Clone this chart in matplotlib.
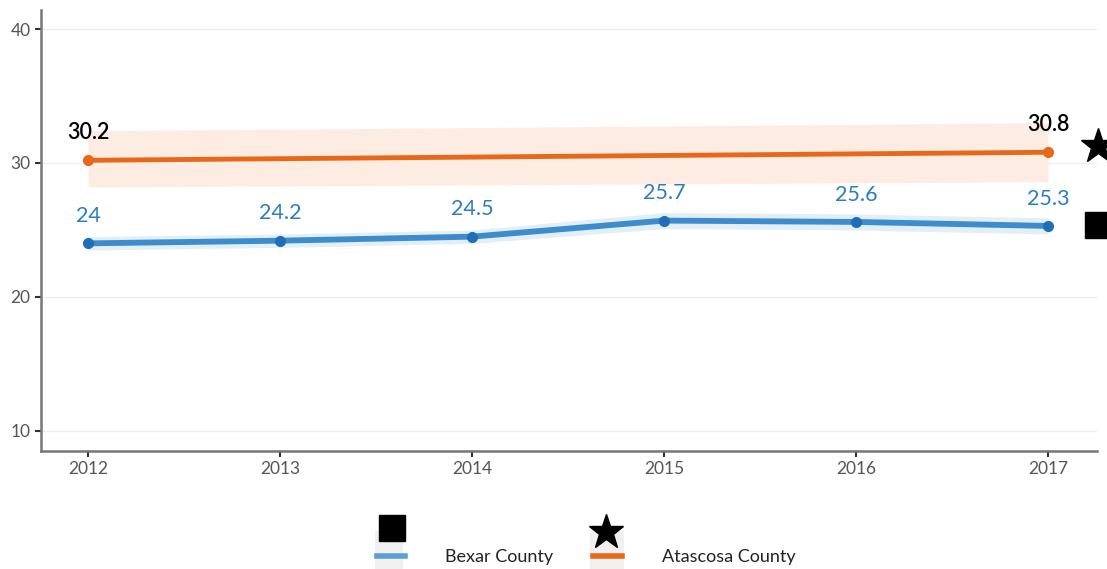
import matplotlib
matplotlib.use("Agg")
import matplotlib.pyplot as plt
from matplotlib.lines import Line2D
import numpy as np

years = [2012, 2013, 2014, 2015, 2016, 2017]
bexar = [24.0, 24.2, 24.5, 25.7, 25.6, 25.3]
bexar_lo = [23.5, 23.7, 24.0, 25.1, 25.0, 24.7]
bexar_hi = [24.5, 24.7, 25.0, 26.3, 26.2, 25.9]
atas_years = [2012, 2017]
atascosa = [30.2, 30.8]
atas_lo = [28.2, 28.6]
atas_hi = [32.4, 33.0]
bexar_state = 25.4
atas_state = 31.3
yticks = [10, 20, 30, 40]

plt.rcParams['font.family'] = ['Lato', 'DejaVu Sans']

fig = plt.figure(figsize=(11.07, 5.69), dpi=100)
ax = fig.add_axes([41/1107, 1-451/569, (1097-41)/1107, (451-10)/569])

blue = '#3d8ccc'
blue_pt = '#1f6fb8'
blue_txt = '#2a7dc4'
orange = '#e8681a'

ax.fill_between(atas_years, atas_lo, atas_hi, color='#fdece2', lw=0, zorder=1)
ax.fill_between(years, bexar_lo, bexar_hi, color='#e3eff8', lw=0, zorder=1)
ax.plot(atas_years, atascosa, color=orange, lw=3.5, zorder=3, solid_capstyle='round')
ax.plot(atas_years, atascosa, 'o', color=orange, ms=7, zorder=4)
ax.plot(years, bexar, color=blue, lw=4.2, zorder=3, solid_capstyle='round')
ax.plot(years, bexar, 'o', color=blue_pt, ms=7, zorder=4)

for x, v in zip(years, bexar):
    ax.text(x, v + 1.3, f"{v:g}", color=blue_txt, fontsize=15.5, ha='center', va='bottom')
for x, v in zip(atas_years, atascosa):
    ax.text(x, v + 1.3, f"{v:g}", color='black', fontsize=15.5, ha='center', va='bottom', fontweight='semibold')

ax.plot([2017.26], [atas_state], marker='*', color='black', ms=26, clip_on=False, zorder=5, lw=0)
ax.plot([2017.26], [bexar_state], marker='s', color='black', ms=19, clip_on=False, zorder=5, lw=0)

ax.set_xlim(2011.755, 2017.255)
ax.set_ylim(8.5, 41.42)
ax.set_xticks(years)
ax.set_yticks(yticks)
ax.tick_params(axis='both', colors='#333333', labelcolor='#555555', labelsize=12.5, length=4, width=1.5)
for s in ['top', 'right']:
    ax.spines[s].set_visible(False)
for s in ['left', 'bottom']:
    ax.spines[s].set_color('#777777')
    ax.spines[s].set_linewidth(1.8)
ax.grid(axis='y', color='#eeeeee', lw=1)
ax.set_axisbelow(True)

# legend
fig.patches.append(plt.Rectangle((375/1107, 1-569/569), 28/1107, 38/569, transform=fig.transFigure, color='#f0f0f0', lw=0))
fig.patches.append(plt.Rectangle((590/1107, 1-569/569), 34/1107, 38/569, transform=fig.transFigure, color='#f0f0f0', lw=0))
fig.lines.append(Line2D([377/1107, 405/1107], [1-556/569]*2, transform=fig.transFigure, color='#5a9fd6', lw=4))
fig.lines.append(Line2D([593/1107, 622/1107], [1-556/569]*2, transform=fig.transFigure, color=orange, lw=4))
fig.lines.append(Line2D([392/1107], [1-528/569], transform=fig.transFigure, marker='s', color='black', ms=19, lw=0))
fig.lines.append(Line2D([606/1107], [1-532/569], transform=fig.transFigure, marker='*', color='black', ms=26, lw=0))
fig.text(445/1107, 1-557/569, "Bexar County", fontsize=13, va='center', ha='left', color='#222222')
fig.text(662/1107, 1-557/569, "Atascosa County", fontsize=13, va='center', ha='left', color='#222222')

fig.savefig('out.png', dpi=100)
